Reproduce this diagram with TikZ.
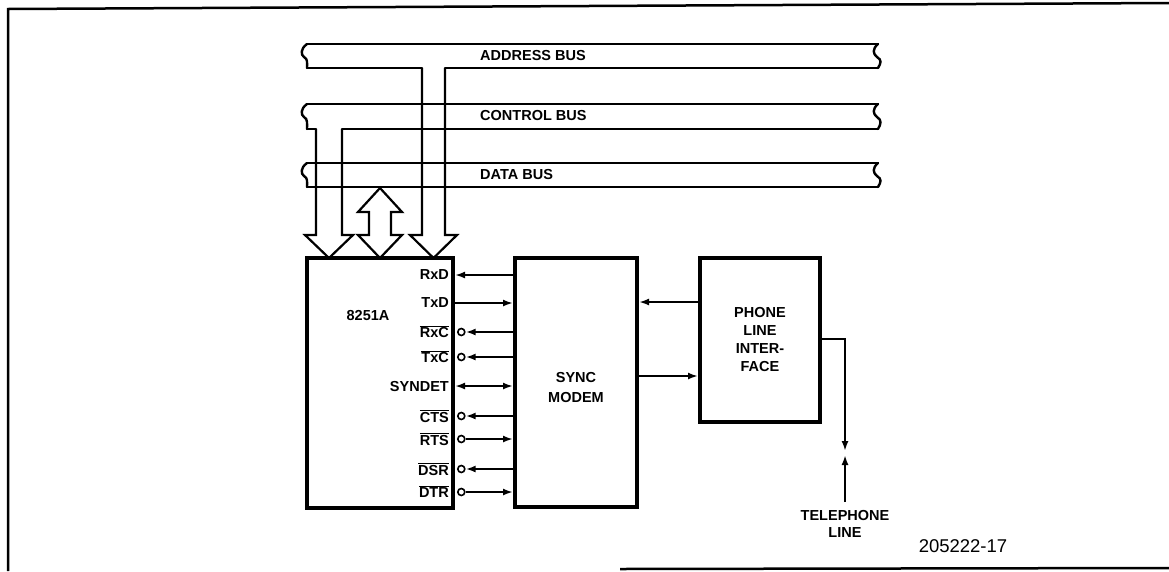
\documentclass[tikz,border=0pt]{standalone}
\usepackage{fontspec}
\setmainfont{Liberation Sans}
\usetikzlibrary{arrows.meta,calc}
\newcommand{\olbar}[1]{$\overline{\mbox{#1}}$}
\begin{document}
\begin{tikzpicture}[x=1pt,y=-1pt,
  bus/.style={line width=2.4pt,line cap=round},
  conn/.style={line width=2.2pt,line join=miter},
  blk/.style={draw,line width=4pt,minimum width=#1},
  sig/.style={line width=2pt},
  tip/.style={-{Latex[length=10pt,width=7pt]}},
  lbl/.style={font=\fontsize{14.5}{16}\selectfont\bfseries,inner sep=0pt},
  buslbl/.style={font=\fontsize{14.5}{16}\selectfont\bfseries,inner sep=0pt,anchor=west},
  inv/.style={draw,circle,line width=1.6pt,minimum size=7pt,inner sep=0pt,fill=white}
]
\useasboundingbox (0,0) rectangle (1169,571);

% frame
\draw[line width=2.5pt] (8,571) -- (8,9) -- (1169,3);
\draw[line width=2.5pt] (620,569) -- (1169,568);

% ---------- buses ----------
\newcommand{\busends}[3]{%
  \draw[bus] (#1,#2) .. controls ($(#1,#2)+(-7,5)$) and ($(#1,#2)+(-6,11)$) .. ($(#1,#2)+(-3,13)$)
     .. controls ($(#1,#2)+(1,15)$) and ($(#1,#3)+(0,-5)$) .. (#1,#3);
}
\newcommand{\busendR}[3]{%
  \draw[bus] (#1,#2) .. controls ($(#1,#2)+(-6,5)$) and ($(#1,#2)+(-5,10)$) .. ($(#1,#2)+(-1,13)$)
     .. controls ($(#1,#2)+(4,16)$) and ($(#1,#3)+(3,-5)$) .. (#1,#3);
}
% address bus
\draw[bus] (307,44) -- (878,44);
\draw[bus] (307,68) -- (422,68);
\draw[bus] (445,68) -- (878,68);
\busends{307}{44}{68}
\busendR{878}{44}{68}
% control bus
\draw[bus] (307,104) -- (878,104);
\draw[bus] (307,129) -- (316,129);
\draw[bus] (342,129) -- (878,129);
\busends{307}{104}{129}
\busendR{878}{104}{129}
% data bus
\draw[bus] (307,163) -- (878,163);
\draw[bus] (307,187) -- (878,187);
\busends{307}{163}{187}
\busendR{878}{163}{187}

\node[buslbl] (labA) at (480,56) {ADDRESS BUS};
\node[buslbl] (labC) at (480,116) {CONTROL BUS};
\node[buslbl] (labD) at (480,175) {DATA BUS};

% wide bus arrows
\draw[conn] (422,68) -- (422,235) -- (410,235) -- (433.5,258) -- (457,235) -- (445,235) -- (445,68);
\draw[conn] (316,129) -- (316,235) -- (305,235) -- (329,258) -- (353,235) -- (342,235) -- (342,129);
\draw[conn] (380,188) -- (358,212) -- (369,212) -- (369,235) -- (358,235) -- (380,258)
   -- (402,235) -- (391,235) -- (391,212) -- (402,212) -- cycle;

% ---------- blocks ----------
\node[blk=146pt,minimum height=250pt] (chip) at (380,383) {};
\node[blk=122pt,minimum height=249pt] (modem) at (576,382.5) {};
\node[blk=120pt,minimum height=164pt] (phone) at (760,340) {};

\node[lbl] (chipname) at (368,316) {8251A};
\node[lbl,align=center] (modemname) at (576,387) {SYNC\\[4pt]MODEM};
\node[lbl,align=center] (phonename) at (760,339.5) {PHONE\\[1.7pt]LINE\\[1.7pt]INTER-\\[1.7pt]FACE};

% pin labels
\foreach \nm/\yy/\txt in {rxd/275/RxD, txd/303/TxD, rxc/332/\olbar{RxC}, txc/357/\olbar{TxC},
   syn/386/SYNDET, cts/416/\olbar{CTS}, rts/439/\olbar{RTS}, dsr/469/\olbar{DSR}, dtr/492/\olbar{DTR}}{
  \node[lbl,anchor=east] (p\nm) at (449,\yy) {\txt};
  \coordinate (c\nm) at (chip.east |- {(0,\yy)});
  \coordinate (m\nm) at (modem.west |- {(0,\yy)});
}
% inversion circles
\foreach \nm in {rxc,txc,cts,rts,dsr,dtr}{
  \node[inv,anchor=west] (o\nm) at ($(c\nm)+(2,0)$) {};
}
% signal lines
\draw[sig,tip] (mrxd) -- (crxd);
\draw[sig,tip] (ctxd) -- (mtxd);
\draw[sig,tip] (mrxc) -- (orxc.east);
\draw[sig,tip] (mtxc) -- (otxc.east);
\draw[sig,{Latex[length=10pt,width=7pt]}-{Latex[length=10pt,width=7pt]}] (csyn) -- (msyn);
\draw[sig,tip] (mcts) -- (octs.east);
\draw[sig,tip] (orts.east) -- (mrts);
\draw[sig,tip] (mdsr) -- (odsr.east);
\draw[sig,tip] (odtr.east) -- (mdtr);

% modem <-> phone interface
\draw[sig,tip] (phone.west |- {(0,302)}) -- (modem.east |- {(0,302)});
\draw[sig,tip] (modem.east |- {(0,376)}) -- (phone.west |- {(0,376)});

% telephone line
\coordinate (tcorner) at (845,339);
\coordinate (tdown) at (845,451);
\coordinate (tup) at (845,455);
\coordinate (tbot) at (845,502);
\draw[sig,tip] (phone.east |- tcorner) -- (tcorner) -- (tdown);
\draw[sig,tip] (tbot) -- (tup);
\node[lbl,align=center] (tel) at (845,524) {TELEPHONE\\[1pt]LINE};

\node[font=\fontsize{18.5}{20}\selectfont,inner sep=0pt] (fig) at (963,546) {205222-17};
\end{tikzpicture}
\end{document}
